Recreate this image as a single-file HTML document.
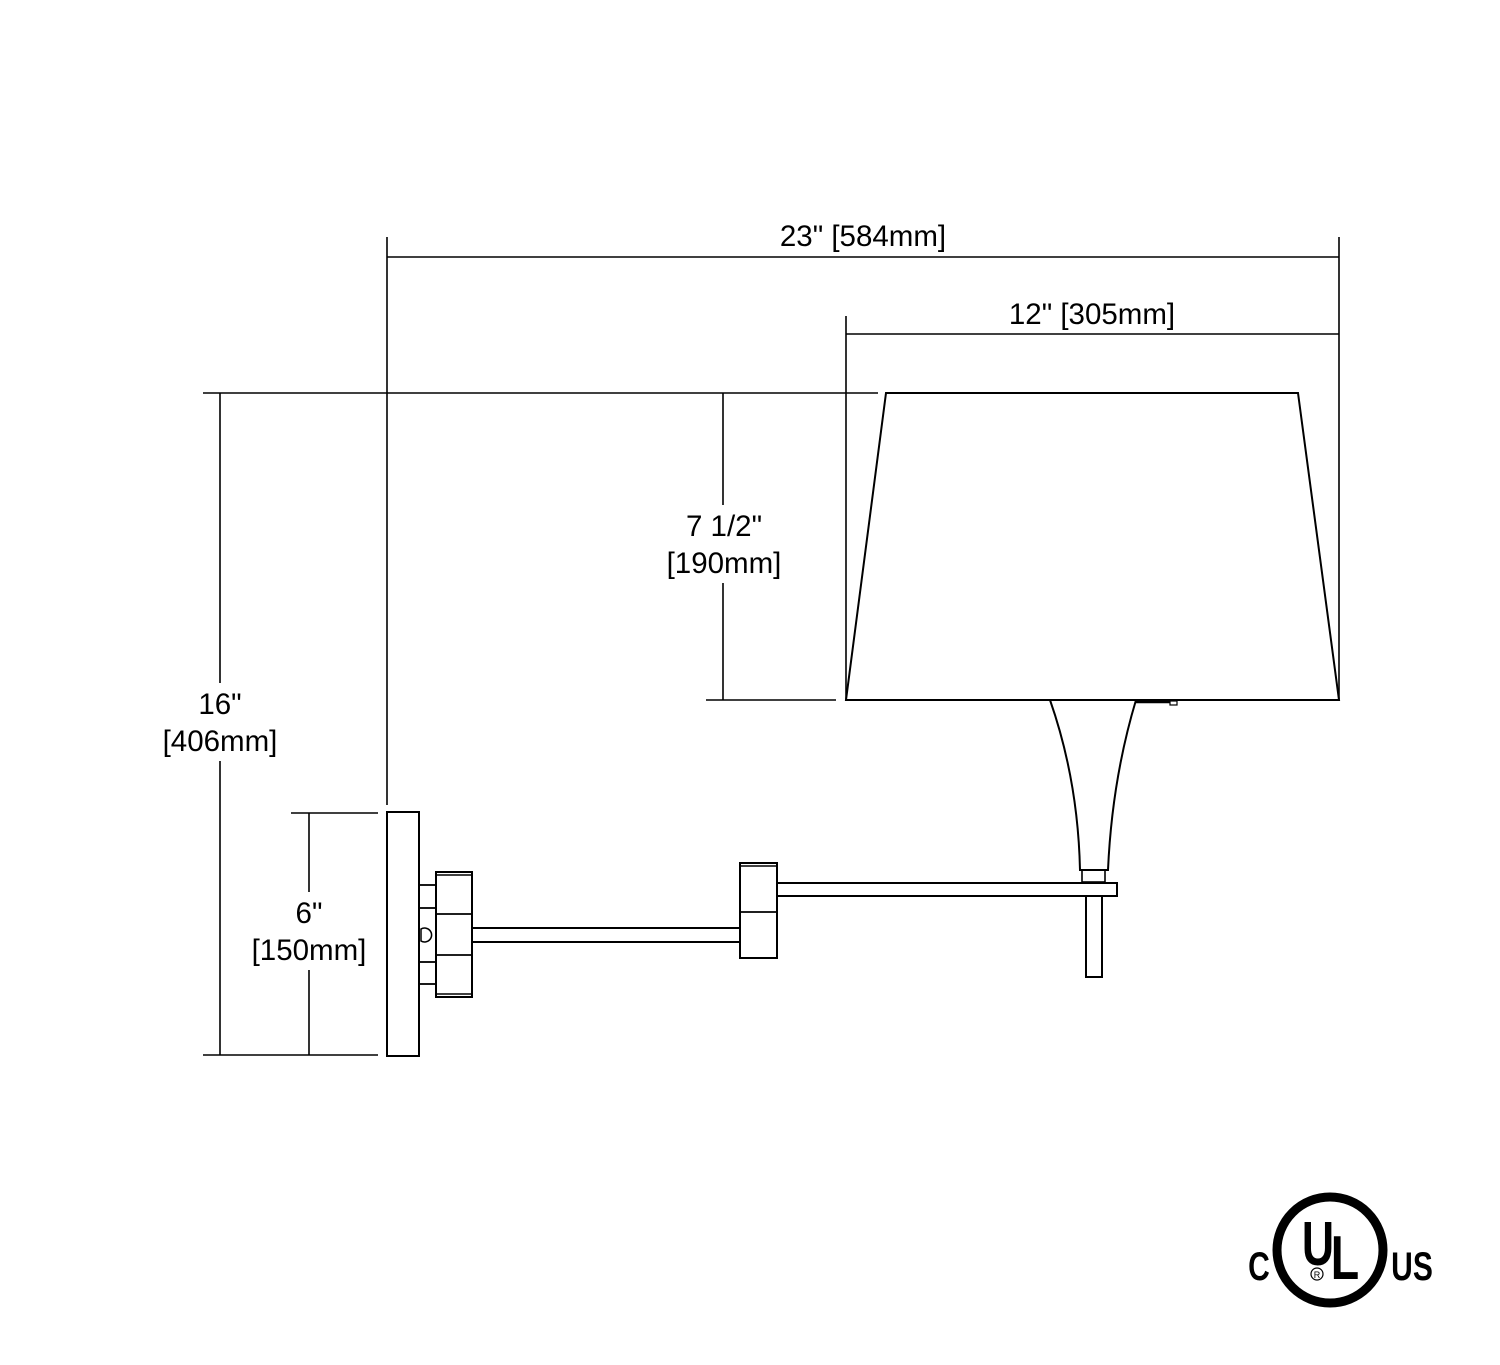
<!DOCTYPE html>
<html><head><meta charset="utf-8"><style>html,body{margin:0;padding:0;background:#fff}svg{display:block}</style></head>
<body>
<svg width="1500" height="1365" viewBox="0 0 1500 1365" xmlns="http://www.w3.org/2000/svg">
<g fill="none" stroke="#000" stroke-width="1.6">
<line x1="387" y1="237" x2="387" y2="805"/>
<line x1="1339" y1="237" x2="1339" y2="700"/>
<line x1="387" y1="257" x2="1339" y2="257"/>
<line x1="846" y1="316" x2="846" y2="700"/>
<line x1="846" y1="334" x2="1339" y2="334"/>
<line x1="203" y1="393" x2="878" y2="393"/>
<line x1="220" y1="393" x2="220" y2="1055"/>
<line x1="203" y1="1055" x2="378" y2="1055"/>
<line x1="309" y1="813" x2="309" y2="1055"/>
<line x1="291" y1="813" x2="378" y2="813"/>
<line x1="723" y1="393" x2="723" y2="700"/>
<line x1="706" y1="700" x2="836" y2="700"/>
<polygon points="886,393 1298,393 1339,700 846,700" stroke-width="2"/>
<path d="M1050,700 Q1078,780 1080,870 L1108,870 Q1112,780 1136,700" stroke-width="2"/>
<rect x="1082" y="870" width="23" height="12"/>
<rect x="777" y="883" width="340" height="13" stroke-width="2"/>
<rect x="1086" y="896" width="16" height="81" stroke-width="2"/>
<line x1="1136" y1="702" x2="1170" y2="702" stroke-width="2.5"/>
<rect x="1170" y="701" width="7" height="4" stroke-width="1.2"/>
<rect x="387" y="812" width="32" height="244" stroke-width="2"/>
<rect x="419" y="885" width="17" height="23" stroke-width="1.8"/>
<rect x="419" y="962" width="17" height="22" stroke-width="1.8"/>
<path d="M421,929 A7,7 0 1 1 421,941 Z" stroke-width="1.5"/>
<rect x="436" y="872" width="36" height="125" stroke-width="2"/>
<line x1="436" y1="875" x2="472" y2="875"/>
<line x1="436" y1="994" x2="472" y2="994"/>
<line x1="436" y1="914" x2="472" y2="914" stroke-width="1.8"/>
<line x1="436" y1="955" x2="472" y2="955" stroke-width="1.8"/>
<rect x="472" y="928" width="268" height="14" stroke-width="2"/>
<rect x="740" y="863" width="37" height="95" stroke-width="2"/>
<line x1="740" y1="866" x2="777" y2="866"/>
<line x1="740" y1="912" x2="777" y2="912" stroke-width="1.8"/>
<circle cx="1330" cy="1250" r="53" stroke-width="9"/>
<circle cx="1317" cy="1274" r="6" stroke-width="1.2"/>
</g>
<g fill="#fff">
<rect x="660" y="505" width="128" height="78"/>
<rect x="156" y="683" width="128" height="78"/>
<rect x="244" y="892" width="130" height="78"/>
</g>
<g font-family="Liberation Sans, sans-serif" font-size="29.5" fill="#000" text-anchor="middle">
<text x="863" y="246">23" [584mm]</text>
<text x="1092" y="324">12" [305mm]</text>
<text x="724" y="536">7 1/2"</text>
<text x="724" y="573">[190mm]</text>
<text x="220" y="714">16"</text>
<text x="220" y="751">[406mm]</text>
<text x="309" y="923">6"</text>
<text x="309" y="960">[150mm]</text>
</g>
<g font-family="Liberation Sans, sans-serif" font-weight="bold" fill="#000" text-anchor="middle">
<text x="1318" y="1265" font-size="62" transform="translate(1318 0) scale(0.72 1) translate(-1318 0)">U</text>
<text x="1345" y="1279" font-size="62" transform="translate(1345 0) scale(0.75 1) translate(-1345 0)">L</text>
<text x="1259" y="1280" font-size="40" transform="translate(1259 0) scale(0.75 1) translate(-1259 0)">C</text>
<text x="1412" y="1280" font-size="40" transform="translate(1412 0) scale(0.75 1) translate(-1412 0)">US</text>
<text x="1317" y="1278" font-size="9" font-weight="normal">R</text>
</g>
</svg>
</body></html>
